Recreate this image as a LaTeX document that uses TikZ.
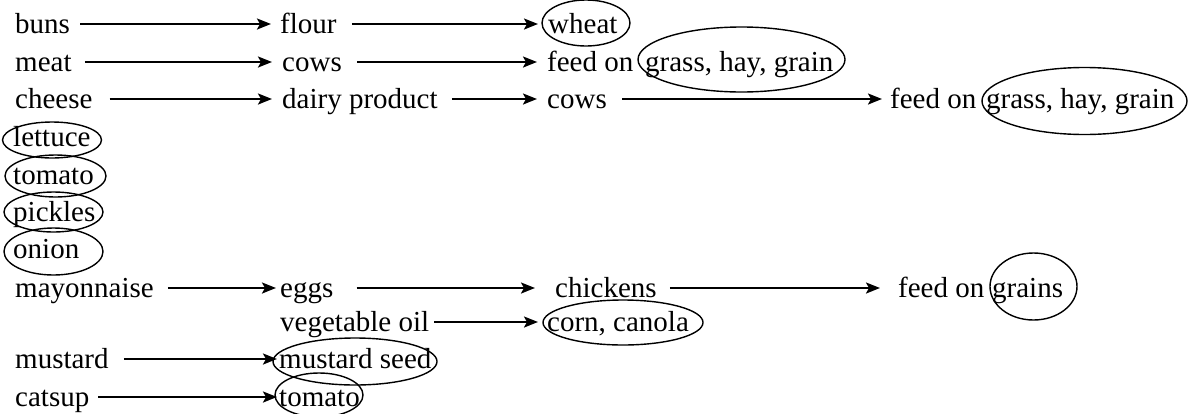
\documentclass[tikz,border=0pt]{standalone}
\usepackage{fontspec}
\setmainfont{Liberation Serif}
\usetikzlibrary{arrows.meta}
\begin{document}
\begin{tikzpicture}[x=1pt,y=-1pt,
  font=\fontsize{29pt}{34pt}\selectfont,
  txt/.style={anchor=west,inner xsep=0pt,inner ysep=0pt,text height=20.3pt,text depth=2.3pt},
  arr/.style={line width=2.3pt,-{Stealth[length=14pt,width=11pt,inset=3pt]}},
  ell/.style={line width=1.4pt}]
\useasboundingbox (0,0) rectangle (1196,413);
% row 1
\node[txt] (buns)   at (15,24) {buns};
\node[txt] (flour)  at (280,24) {flour};
\node[txt] (wheat)  at (548,24) {wheat};
\draw[ell] (586,23) ellipse [x radius=44,y radius=23];
\draw[arr,shorten <=10pt,shorten >=9pt] (buns) -- (flour);
\draw[arr,shorten <=15pt,shorten >=10pt] (flour) -- (wheat);
% row 2
\node[txt] (meat)   at (15,62) {meat};
\node[txt] (cows1)  at (282,62) {cows};
\node[txt] (feed1)  at (547,62) {feed on};
\node[txt] (ghg1)   at (645,62) {grass, hay, grain};
\draw[ell] (741.5,59.5) ellipse [x radius=103.5,y radius=32.5];
\draw[arr,shorten <=13pt,shorten >=10pt] (meat) -- (cows1);
\draw[arr,shorten <=15pt,shorten >=10pt] (cows1) -- (feed1);
% row 3
\node[txt] (cheese) at (15,99) {cheese};
\node[txt] (dairy)  at (282,99) {dairy product};
\node[txt] (cows2)  at (547,99) {cows};
\node[txt] (feed2)  at (890,99) {feed on};
\node[txt] (ghg2)   at (986,99) {grass, hay, grain};
\draw[ell] (1084.5,101) ellipse [x radius=102.5,y radius=33.5];
\draw[arr,shorten <=17pt,shorten >=10pt] (cheese) -- (dairy);
\draw[arr,shorten <=14pt,shorten >=10pt] (dairy) -- (cows2);
\draw[arr,shorten <=15pt,shorten >=8pt] (cows2) -- (feed2);
% circled single items
\node[txt] (lettuce) at (13,137) {lettuce};
\draw[ell] (52,140) ellipse [x radius=49.5,y radius=18];
\node[txt] (tomato1) at (13,175) {tomato};
\draw[ell] (55.5,176) ellipse [x radius=50.5,y radius=21];
\node[txt] (pickles) at (13,212) {pickles};
\draw[ell] (53.5,212) ellipse [x radius=49.5,y radius=20];
\node[txt] (onion)   at (13,249) {onion};
\draw[ell] (53.5,251.5) ellipse [x radius=49.5,y radius=23.5];
% mayonnaise row
\node[txt] (mayo)     at (15,288) {mayonnaise};
\node[txt] (eggs)     at (280,288) {eggs};
\node[txt] (chickens) at (555,288) {chickens};
\node[txt] (feed3)    at (898,288) {feed on};
\node[txt] (grains)   at (992,288) {grains};
\draw[ell] (1033.5,286.5) ellipse [x radius=43.5,y radius=33.5];
\draw[arr,shorten <=14pt,shorten >=4pt] (mayo) -- (eggs);
\draw[arr,shorten <=23pt,shorten >=20pt] (eggs) -- (chickens);
\draw[arr,shorten <=13pt,shorten >=18pt] (chickens) -- (feed3);
% vegetable oil row
\node[txt] (vegoil) at (280,322) {vegetable oil};
\node[txt] (corn)   at (547,322) {corn, canola};
\draw[ell] (623,322.5) ellipse [x radius=80,y radius=22.5];
\draw[arr,shorten <=5pt,shorten >=9pt] (vegoil) -- (corn);
% mustard row
\node[txt] (mustard) at (15,359) {mustard};
\node[txt] (mseed)   at (279,359) {mustard seed};
\draw[ell] (355,361.5) ellipse [x radius=82,y radius=23.5];
\draw[arr,shorten <=15pt,shorten >=2pt] (mustard) -- (mseed);
% catsup row
\node[txt] (catsup)  at (15,397) {catsup};
\node[txt] (tomato2) at (279,397) {tomato};
\draw[ell] (319,395) ellipse [x radius=44,y radius=22];
\draw[arr,shorten <=9pt,shorten >=2pt] (catsup) -- (tomato2);
\end{tikzpicture}
\end{document}
